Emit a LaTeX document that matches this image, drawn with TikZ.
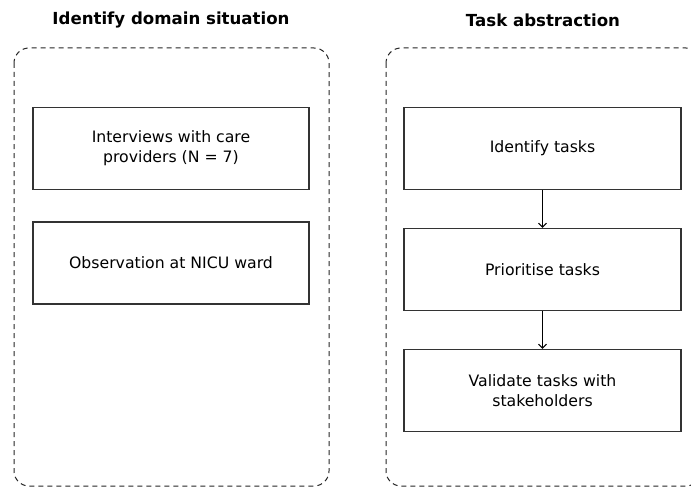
\documentclass[tikz,border=0pt]{standalone}
\usepackage{fontspec}
\setmainfont{DejaVu Sans}
\usetikzlibrary{arrows.meta}
\begin{document}
\begin{tikzpicture}[x=1pt,y=-1pt,
  stage/.style={draw=black!85, line width=1pt, dash pattern=on 5pt off 4pt, rounded corners=15pt},
  stepbox/.style={draw=black!80, line width=1.3pt, minimum width=276pt, minimum height=82pt,
    align=center, font=\fontsize{15.7}{20}\selectfont, inner sep=0pt},
  title/.style={font=\fontsize{16.6}{21}\selectfont\bfseries},
  flow/.style={draw=black, line width=1pt, -{Straight Barb[length=4pt,width=8pt,line width=1pt]}}]
\useasboundingbox (0,0) rectangle (691,487);
\fill[white] (0,0) rectangle (691,487);

% stage titles
\node[title] (t1) at (171,20) {Identify domain situation};
\node[title] (t2) at (543,20) {Task abstraction};

% dashed stage frames (the right one runs past the page edge)
\draw[stage] (14,48) rectangle (329,486);
\draw[stage] (386,48) rectangle (701,486);

% domain situation steps
\node[stepbox] (a1) at (171,148.5) {Interviews with care\\providers (N = 7)};
\node[stepbox] (a2) at (171,263) {Observation at NICU ward};

% task abstraction steps
\node[stepbox, minimum width=277pt] (b1) at (542.5,148.5) {Identify tasks};
\node[stepbox, minimum width=277pt] (b2) at (542.5,269.5) {Prioritise tasks};
\node[stepbox, minimum width=277pt] (b3) at (542.5,390.5) {Validate tasks with\\stakeholders};

\draw[flow] (b1) -- (b2);
\draw[flow] (b2) -- (b3);
\end{tikzpicture}
\end{document}
